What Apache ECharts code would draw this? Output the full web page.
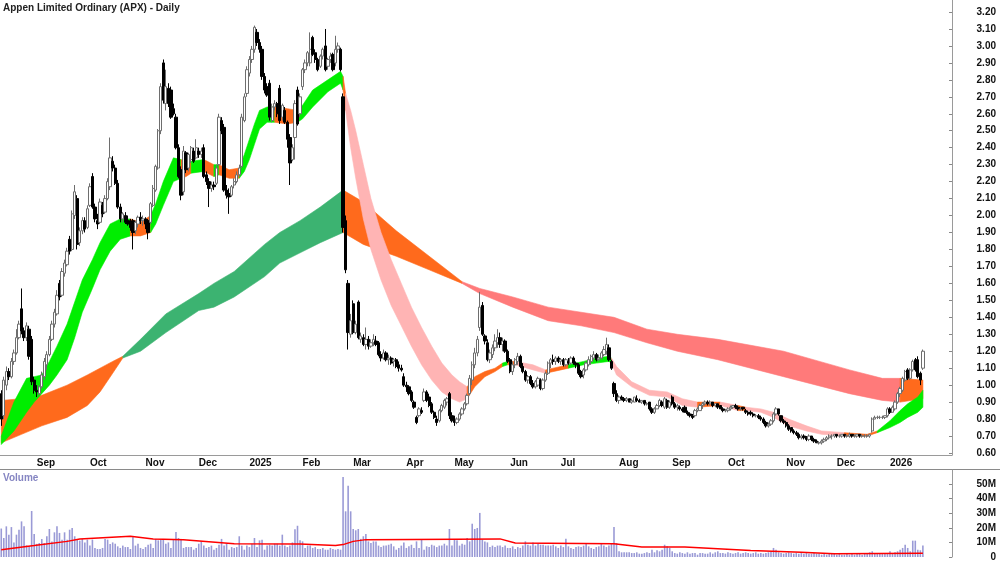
<!DOCTYPE html>
<html>
<head>
<meta charset="utf-8">
<script src="https://cdn.jsdelivr.net/npm/echarts@6/dist/echarts.min.js"></script>
<style>
html, body { margin: 0; padding: 0; background: #fff; }
#chart { width: 1000px; height: 562px; }
</style>
</head>
<body>
<div id="chart"></div>
<script>
// first trading day of each month (bar index) and its label
const monthStarts = [14, 35, 57, 78, 98, 119, 139, 160, 179, 201, 221, 244, 265, 287, 310, 330, 351];
const monthNames = ['Sep', 'Oct', 'Nov', 'Dec', '2025', 'Feb', 'Mar', 'Apr', 'May', 'Jun', 'Jul', 'Aug', 'Sep', 'Oct', 'Nov', 'Dec', '2026'];
const slotCount = 376; // bar slots, incl. empty space after the last bar

const priceTicks = [0.6, 0.7, 0.8, 0.9, 1.0, 1.1, 1.2, 1.3, 1.4, 1.5, 1.6, 1.7, 1.8, 1.9, 2.0, 2.1, 2.2, 2.3, 2.4, 2.5, 2.6, 2.7, 2.8, 2.9, 3.0, 3.1, 3.2];
const volumeTicks = [0, 10, 20, 30, 40, 50];

// daily bars: [open, high, low, close]
const ohlc = [
  // Aug 2024
  [0.95,0.97,0.76,0.80],[0.82,1.05,0.80,1.03],[1.00,1.11,0.97,1.08],[1.08,1.10,1.03,1.05],[1.05,1.16,1.04,1.14],
  [1.14,1.21,1.12,1.19],[1.19,1.33,1.18,1.28],[1.28,1.38,1.27,1.36],[1.45,1.57,1.30,1.32],[1.32,1.34,1.26,1.28],
  [1.28,1.37,1.26,1.35],[1.33,1.35,1.15,1.17],[1.27,1.29,1.00,1.02],[1.03,1.05,0.95,0.97],
  // Sep
  [0.97,1.00,0.93,0.96],[0.95,1.00,0.94,0.99],[0.99,1.08,0.98,1.06],[1.05,1.16,1.03,1.14],[1.12,1.20,1.09,1.18],
  [1.18,1.29,1.17,1.27],[1.27,1.38,1.26,1.36],[1.36,1.45,1.34,1.43],[1.42,1.56,1.41,1.53],[1.60,1.62,1.50,1.52],
  [1.53,1.69,1.52,1.67],[1.66,1.74,1.64,1.72],[1.71,1.81,1.70,1.79],[1.86,1.88,1.77,1.79],[1.80,2.03,1.79,2.01],
  [2.00,2.18,1.98,2.14],[2.10,2.12,1.80,1.83],[1.84,1.93,1.82,1.91],[1.91,1.99,1.89,1.97],[1.97,1.99,1.90,1.92],
  [1.93,2.06,1.92,2.04],
  // Oct
  [2.06,2.19,2.05,2.17],[2.23,2.25,2.04,2.05],[2.05,2.07,1.96,1.98],[1.97,2.01,1.92,1.95],[1.96,2.10,1.95,2.08],
  [2.06,2.08,1.99,2.01],[2.02,2.12,2.01,2.10],[2.10,2.22,2.09,2.20],[2.17,2.46,2.15,2.34],[2.32,2.35,2.26,2.28],
  [2.28,2.30,2.18,2.19],[2.19,2.21,2.04,2.05],[2.05,2.07,1.96,1.98],[1.98,2.02,1.96,2.01],[2.00,2.02,1.95,1.96],
  [1.97,2.00,1.94,1.95],[1.96,1.98,1.91,1.93],[1.97,1.98,1.80,1.90],[1.91,1.97,1.89,1.96],[1.95,2.00,1.93,1.99],
  [1.99,2.02,1.95,1.97],[1.97,2.00,1.94,1.98],
  // Nov
  [1.98,1.99,1.92,1.95],[1.97,1.98,1.86,1.90],[1.96,2.08,1.95,2.07],[2.06,2.18,2.05,2.16],[2.15,2.30,2.14,2.29],
  [2.28,2.51,2.27,2.50],[2.50,2.78,2.48,2.76],[2.90,2.92,2.66,2.68],[2.66,2.86,2.62,2.76],[2.75,2.78,2.64,2.66],
  [2.74,2.76,2.57,2.58],[2.63,2.66,2.59,2.60],[2.58,2.60,2.39,2.40],[2.40,2.42,2.22,2.23],[2.27,2.29,2.09,2.12],
  [2.14,2.41,2.12,2.38],[2.37,2.38,2.25,2.27],[2.28,2.37,2.26,2.36],[2.33,2.41,2.31,2.40],[2.38,2.40,2.31,2.32],
  [2.34,2.45,2.33,2.40],
  // Dec
  [2.38,2.40,2.34,2.36],[2.36,2.40,2.34,2.38],[2.40,2.42,2.22,2.23],[2.24,2.26,2.18,2.20],[2.20,2.22,2.05,2.16],
  [2.16,2.20,2.14,2.18],[2.18,2.20,2.15,2.17],[2.19,2.30,2.18,2.28],[2.30,2.60,2.29,2.58],[2.56,2.58,2.48,2.50],
  [2.52,2.54,2.14,2.15],[2.15,2.18,2.10,2.12],[2.13,2.16,2.01,2.11],[2.12,2.18,2.11,2.17],[2.18,2.22,2.16,2.20],
  [2.20,2.26,2.19,2.24],[2.24,2.30,2.23,2.28],[2.29,2.60,2.28,2.58],[2.56,2.72,2.55,2.70],[2.72,2.88,2.70,2.86],
  // Jan 2025
  [2.84,2.94,2.82,2.92],[2.92,3.00,2.90,2.98],[2.98,3.12,2.96,3.11],[3.08,3.10,3.00,3.02],[3.02,3.04,2.96,2.98],
  [2.98,3.00,2.80,2.82],[2.82,2.84,2.72,2.74],[2.76,2.78,2.70,2.71],[2.78,2.80,2.56,2.58],[2.56,2.66,2.55,2.64],
  [2.64,2.68,2.62,2.66],[2.66,2.67,2.58,2.60],[2.75,2.77,2.54,2.56],[2.58,2.66,2.56,2.65],[2.62,2.64,2.54,2.55],
  [2.55,2.56,2.40,2.45],[2.46,2.48,2.18,2.31],[2.33,2.42,2.32,2.40],[2.46,2.68,2.33,2.66],[2.74,2.76,2.53,2.54],
  [2.60,2.72,2.58,2.70],
  // Feb
  [2.76,2.87,2.74,2.86],[2.86,2.92,2.84,2.90],[2.90,2.97,2.88,2.96],[2.90,3.08,2.88,2.98],[3.05,3.06,2.94,2.95],
  [2.96,2.98,2.90,2.92],[2.92,2.93,2.85,2.86],[2.88,2.95,2.87,2.94],[2.94,2.99,2.92,2.98],[3.00,3.10,2.85,2.86],
  [2.88,2.93,2.86,2.92],[2.92,2.96,2.90,2.94],[2.95,2.96,2.85,2.86],[2.90,3.06,2.88,2.98],[2.98,3.02,2.96,3.00],
  [2.98,2.99,2.85,2.86],[2.70,2.72,1.90,1.93],[1.97,2.00,1.66,1.68],[1.60,1.62,1.21,1.31],[1.30,1.42,1.28,1.38],
  // Mar
  [1.48,1.50,1.30,1.31],[1.31,1.38,1.30,1.36],[1.49,1.50,1.27,1.28],[1.27,1.31,1.25,1.29],[1.28,1.30,1.23,1.24],
  [1.24,1.34,1.21,1.27],[1.27,1.29,1.21,1.23],[1.23,1.27,1.22,1.25],[1.25,1.30,1.23,1.27],[1.26,1.29,1.23,1.24],
  [1.25,1.26,1.17,1.18],[1.18,1.20,1.14,1.16],[1.16,1.21,1.15,1.19],[1.19,1.20,1.14,1.15],[1.15,1.18,1.12,1.16],
  [1.16,1.17,1.12,1.13],[1.14,1.16,1.11,1.15],[1.15,1.16,1.10,1.11],[1.12,1.14,1.08,1.10],[1.10,1.12,1.08,1.09],
  [1.05,1.07,0.99,1.00],
  // Apr
  [1.00,1.02,0.96,0.99],[0.99,1.00,0.94,0.95],[0.96,0.97,0.90,0.91],[0.90,0.91,0.86,0.87],[0.81,0.82,0.77,0.78],
  [0.82,0.87,0.81,0.86],[0.85,0.87,0.83,0.84],[0.91,0.98,0.90,0.96],[0.96,0.97,0.90,0.91],[0.93,0.95,0.87,0.88],
  [0.89,0.90,0.83,0.84],[0.84,0.85,0.80,0.81],[0.80,0.82,0.76,0.78],[0.79,0.86,0.78,0.85],[0.85,0.89,0.84,0.88],
  [0.87,0.92,0.86,0.91],[0.90,0.93,0.88,0.92],[0.95,0.96,0.80,0.82],[0.82,0.84,0.78,0.79],
  // May
  [0.80,0.82,0.76,0.78],[0.78,0.81,0.77,0.80],[0.80,0.84,0.79,0.83],[0.83,0.87,0.82,0.86],[0.86,0.90,0.85,0.89],
  [0.89,0.95,0.88,0.94],[0.95,1.06,0.94,1.04],[1.03,1.14,1.00,1.12],[1.12,1.22,1.10,1.19],[1.19,1.29,1.17,1.27],
  [1.34,1.55,1.32,1.46],[1.47,1.49,1.29,1.30],[1.29,1.30,1.24,1.26],[1.25,1.27,1.14,1.15],[1.15,1.21,1.13,1.19],
  [1.18,1.24,1.16,1.22],[1.22,1.30,1.20,1.26],[1.25,1.33,1.22,1.28],[1.28,1.31,1.22,1.24],[1.24,1.28,1.20,1.26],
  [1.26,1.27,1.19,1.20],[1.20,1.21,1.13,1.14],
  // Jun
  [1.15,1.16,1.07,1.08],[1.08,1.14,1.06,1.12],[1.12,1.16,1.10,1.15],[1.14,1.19,1.12,1.17],[1.17,1.18,1.10,1.11],
  [1.11,1.13,1.07,1.08],[1.08,1.09,1.02,1.03],[1.03,1.06,1.01,1.05],[1.05,1.06,1.00,1.01],[1.01,1.03,0.98,0.99],
  [0.99,1.03,0.98,1.02],[1.00,1.05,0.99,1.04],[1.03,1.04,0.97,0.98],[0.98,1.04,0.97,1.03],[1.03,1.08,1.02,1.07],
  [1.07,1.14,1.06,1.13],[1.13,1.16,1.10,1.15],[1.15,1.18,1.12,1.14],[1.14,1.17,1.12,1.16],[1.16,1.17,1.13,1.14],
  // Jul
  [1.14,1.16,1.12,1.15],[1.15,1.16,1.11,1.12],[1.12,1.16,1.11,1.15],[1.14,1.16,1.12,1.13],[1.13,1.17,1.12,1.16],
  [1.16,1.17,1.12,1.13],[1.13,1.14,1.10,1.12],[1.12,1.13,1.06,1.07],[1.08,1.09,1.04,1.05],[1.06,1.10,1.04,1.09],
  [1.09,1.14,1.08,1.13],[1.12,1.17,1.11,1.15],[1.14,1.18,1.12,1.17],[1.16,1.20,1.15,1.18],[1.18,1.19,1.14,1.15],
  [1.15,1.18,1.14,1.16],[1.16,1.20,1.15,1.19],[1.18,1.23,1.17,1.21],[1.20,1.28,1.18,1.24],[1.22,1.24,1.14,1.15],
  [1.14,1.15,1.09,1.10],[1.01,1.02,0.93,0.95],[0.95,0.97,0.90,0.91],
  // Aug
  [0.91,0.94,0.89,0.93],[0.93,0.94,0.91,0.92],[0.92,0.93,0.90,0.91],[0.91,0.93,0.90,0.92],[0.92,0.92,0.90,0.90],
  [0.90,0.92,0.89,0.91],[0.90,0.93,0.90,0.93],[0.92,0.94,0.90,0.91],[0.91,0.92,0.90,0.90],[0.90,0.91,0.89,0.91],
  [0.91,0.91,0.88,0.89],[0.89,0.90,0.88,0.89],[0.90,0.90,0.85,0.86],[0.86,0.87,0.83,0.84],[0.84,0.87,0.83,0.86],
  [0.86,0.89,0.86,0.88],[0.88,0.92,0.87,0.91],[0.90,0.91,0.87,0.88],[0.87,0.93,0.86,0.92],[0.91,0.92,0.86,0.87],
  [0.87,0.91,0.86,0.90],
  // Sep
  [0.93,0.94,0.88,0.89],[0.89,0.90,0.86,0.87],[0.87,0.89,0.85,0.88],[0.87,0.88,0.85,0.86],[0.86,0.87,0.84,0.85],
  [0.87,0.88,0.84,0.84],[0.84,0.85,0.82,0.83],[0.83,0.84,0.81,0.82],[0.82,0.83,0.80,0.81],[0.82,0.86,0.81,0.85],
  [0.85,0.87,0.84,0.86],[0.85,0.89,0.85,0.88],[0.88,0.90,0.86,0.89],[0.89,0.91,0.88,0.90],[0.90,0.91,0.88,0.89],
  [0.89,0.91,0.88,0.90],[0.90,0.90,0.87,0.88],[0.88,0.89,0.87,0.89],[0.89,0.89,0.86,0.87],[0.88,0.88,0.86,0.86],
  [0.86,0.87,0.84,0.85],[0.85,0.86,0.84,0.85],
  // Oct
  [0.85,0.87,0.84,0.86],[0.86,0.88,0.85,0.87],[0.87,0.88,0.86,0.88],[0.88,0.89,0.86,0.87],[0.87,0.88,0.85,0.86],
  [0.86,0.87,0.85,0.86],[0.87,0.87,0.85,0.86],[0.85,0.86,0.83,0.84],[0.84,0.85,0.82,0.83],[0.84,0.85,0.82,0.83],
  [0.83,0.84,0.81,0.82],[0.82,0.83,0.81,0.82],[0.82,0.83,0.80,0.81],[0.81,0.82,0.79,0.80],[0.80,0.81,0.77,0.78],
  [0.78,0.79,0.75,0.76],[0.76,0.78,0.75,0.77],[0.77,0.80,0.76,0.79],[0.79,0.84,0.78,0.83],[0.83,0.87,0.82,0.86],
  [0.86,0.86,0.82,0.83],[0.82,0.82,0.78,0.79],[0.79,0.80,0.77,0.78],
  // Nov
  [0.78,0.79,0.75,0.76],[0.76,0.77,0.73,0.74],[0.75,0.75,0.72,0.73],[0.73,0.74,0.71,0.72],[0.72,0.73,0.70,0.71],
  [0.71,0.72,0.68,0.69],[0.69,0.71,0.68,0.70],[0.70,0.71,0.68,0.69],[0.69,0.70,0.67,0.68],[0.68,0.71,0.67,0.70],
  [0.70,0.70,0.67,0.68],[0.68,0.69,0.66,0.67],[0.67,0.68,0.66,0.66],[0.66,0.67,0.65,0.66],[0.66,0.68,0.65,0.67],
  [0.67,0.69,0.66,0.68],[0.68,0.70,0.67,0.69],[0.69,0.71,0.68,0.70],[0.70,0.71,0.68,0.70],[0.70,0.71,0.69,0.71],
  // Dec
  [0.71,0.71,0.69,0.70],[0.70,0.71,0.69,0.70],[0.70,0.71,0.69,0.71],[0.71,0.71,0.69,0.70],[0.70,0.71,0.69,0.70],
  [0.70,0.72,0.69,0.71],[0.71,0.71,0.69,0.70],[0.70,0.71,0.69,0.70],[0.70,0.71,0.69,0.71],[0.71,0.71,0.69,0.70],
  [0.70,0.71,0.69,0.70],[0.70,0.71,0.69,0.70],[0.70,0.71,0.69,0.70],[0.70,0.71,0.69,0.71],[0.73,0.81,0.72,0.80],
  [0.80,0.82,0.80,0.81],[0.81,0.82,0.80,0.81],[0.81,0.82,0.80,0.81],[0.81,0.82,0.80,0.81],[0.81,0.82,0.80,0.82],
  [0.82,0.87,0.81,0.86],
  // Jan 2026
  [0.86,0.87,0.83,0.84],[0.84,0.88,0.84,0.87],[0.86,0.91,0.85,0.90],[0.90,0.96,0.89,0.95],[0.95,0.99,0.93,0.98],
  [0.97,1.05,0.96,1.04],[1.03,1.09,1.02,1.08],[1.09,1.10,1.03,1.04],[1.04,1.10,1.03,1.09],[1.09,1.15,1.08,1.14],
  [1.15,1.16,1.08,1.09],[1.15,1.17,1.04,1.05],[1.07,1.08,1.00,1.03],[1.10,1.21,1.09,1.20]
];

// daily volume, millions
const volumes = [
  19.5,13.0,21.0,15.3,20.5,10.0,15.3,18.7,24.4,21.0, 8.0,7.5,31.5,15.8,9.0,9.6,12.3,9.6,14.2,19.2,
  10.7,16.9,21.0,16.5,11.9,16.9,11.9,18.7,19.9,14.2, 11.9,11.2,12.4,10.0,11.9,7.8,11.9,6.2,5.5,5.5,
  6.2,12.4,11.9,8.9,10.0,9.1,7.3,6.2,7.8,6.8, 6.8,5.5,14.2,7.8,9.1,6.2,5.5,6.8,8.4,9.1,
  6.2,12.4,11.4,11.9,11.9,9.1,10.0,6.2,11.9,17.2, 13.0,12.4,6.2,6.8,6.8,6.8,5.0,6.2,9.1,10.7,
  7.8,6.2,6.8,7.8,5.0,6.2,8.4,12.4,7.8,9.1, 5.0,6.8,6.2,6.8,14.2,7.8,5.0,7.8,6.8,9.1,
  13.0,6.8,11.4,11.9,5.0,7.8,8.4,7.8,9.1,9.1, 7.8,15.3,7.8,6.8,7.8,10.0,19.0,21.4,11.4,10.7,
  6.2,7.8,7.8,6.2,6.8,5.5,5.5,6.2,5.0,5.0, 6.2,5.5,5.0,5.5,5.0,
  54.8,31.3,48.8,31.3,19.2,18.3,19.2,12.4,14.2,15.8,
  10.7,9.6,10.7,10.7,7.8,6.8,7.8,7.8,8.4,9.1,7.3,5.0,6.2,7.8,10.0,
  6.2,7.3,8.4,6.2,10.7,6.2,11.9,5.0,7.3,6.8,8.4,7.8,6.8,7.8,7.8,9.1,7.8,19.2,7.8,
  11.9,11.4,7.8,9.1,8.4,13.0,10.7,22.8,19.2,19.9,30.2,11.9,10.7,10.0,6.8,7.8,6.8,7.8,
  7.8,6.8,7.8,6.2,6.2,7.3,5.5,6.8,6.2,7.8, 10.7,8.4,7.8,10.0,7.8,9.1,8.4,8.4,7.8,7.8,
  7.8,8.4,7.3,6.2,7.8,6.8,12.5,7.3,6.2,5.5, 6.8,7.3,6.8,7.8,9.1,7.3,6.2,5.5,6.8,7.3,
  9.6,7.8,6.8,7.8,9.6,20.5,9.6,3.9,3.2,3.2, 3.2,3.2,2.7,2.7,3.2,2.3,2.3,2.7,3.2,2.7,
  5.0,3.2,4.6,3.9,5.0,8.4,7.3,6.2,3.9,2.7, 2.3,3.2,2.7,2.3,3.2,2.3,2.7,2.7,1.6,2.7,
  2.7,2.3,2.3,3.2,2.3,3.2,3.9,2.7,2.7,2.3, 3.2,2.7,2.3,2.7,3.2,2.3,2.7,3.2,2.7,2.3,
  2.7,3.2,2.3,2.7,2.3,2.7,3.2,3.9,6.2,5.0, 3.2,2.7,2.3,2.7,3.2,2.7,2.3,2.7,2.3,2.7,
  2.3,2.7,2.3,2.3,2.7,2.3,2.3,1.6,2.3,1.6, 2.3,2.7,2.3,1.6,2.3,1.6,1.6,2.3,1.6,2.3,
  1.6,2.3,2.7,1.6,2.3,2.7,3.2,3.9,2.7,2.3, 2.7,2.3,2.7,2.3,3.9,2.7,3.2,3.9,5.0,6.2,
  8.4,6.2,3.9,11.2,11.2,5.0,4.6,7.8
];

// volume average line: [bar index, millions]
const volumeAvg = [
  [0,5.0],[13,7.8],[26,10.7],[31,12.4],[51,14.2],[60,12.4],[72,11.9],[92,9.1],[118,8.9],[132,7.8],
  [135,8.5],[139,10.7],[144,11.9],[197,12.4],[203,9.6],[242,9.1],[253,6.8],[270,6.8],[296,4.4],[316,3.2],
  [329,2.3],[364,2.5]
];

// short-term MMA ribbon: [bar index, low edge, high edge, trend until next point]
const shortRibbon = [
  [0,0.65,0.70,'up'],[5,0.73,0.90,'up'],[10,0.84,1.04,'up'],[13,0.90,1.05,'up'],[16,0.95,1.06,'up'],
  [19,1.00,1.14,'up'],[22,1.06,1.23,'up'],[26,1.15,1.36,'up'],[29,1.28,1.49,'up'],[32,1.43,1.62,'up'],
  [36,1.57,1.74,'up'],[39,1.68,1.84,'up'],[43,1.79,1.95,'up'],[47,1.86,1.98,'up'],[51,1.88,1.98,'mix'],
  [55,1.88,1.96,'mix'],[59,1.90,2.00,'up'],[61,1.95,2.07,'up'],[64,2.06,2.20,'up'],[68,2.20,2.34,'up'],
  [71,2.22,2.33,'mix'],[73,2.23,2.31,'mix'],[75,2.25,2.32,'up'],[80,2.26,2.33,'mix'],[84,2.23,2.30,'up'],
  [86,2.24,2.30,'mix'],[90,2.22,2.27,'mix'],[94,2.22,2.28,'up'],[96,2.26,2.36,'up'],[98,2.33,2.45,'up'],
  [100,2.42,2.54,'up'],[102,2.51,2.62,'up'],[105,2.55,2.64,'up'],[108,2.55,2.64,'mix'],[113,2.54,2.63,'mix'],
  [117,2.55,2.62,'up'],[119,2.57,2.65,'up'],[123,2.64,2.74,'up'],[129,2.73,2.80,'up'],[134,2.78,2.85,'up'],
  [135,2.74,2.82,'mix'],[136,2.62,2.72,'down'],[138,2.40,2.62,'down'],[140,2.22,2.50,'down'],[143,1.98,2.30,'down'],
  [146,1.80,2.10,'down'],[150,1.62,1.90,'down'],[154,1.47,1.74,'down'],[158,1.35,1.60,'down'],[162,1.23,1.46,'down'],
  [166,1.12,1.34,'down'],[170,1.03,1.23,'down'],[174,0.96,1.13,'down'],[178,0.92,1.06,'down'],[181,0.90,1.02,'down'],
  [184,0.92,0.99,'mix'],[187,0.99,1.05,'mix'],[191,1.05,1.08,'mix'],[195,1.08,1.10,'mix'],[198,1.11,1.13,'up'],
  [200,1.12,1.14,'mix'],[203,1.12,1.14,'down'],[210,1.09,1.12,'down'],[215,1.07,1.09,'mix'],[221,1.09,1.11,'mix'],
  [224,1.10,1.12,'up'],[230,1.12,1.14,'up'],[235,1.13,1.16,'up'],[240,1.14,1.17,'up'],[241,1.13,1.16,'down'],
  [243,1.06,1.11,'down'],[249,0.99,1.02,'down'],[256,0.94,0.97,'down'],[263,0.93,0.96,'down'],[269,0.88,0.92,'down'],
  [275,0.87,0.90,'mix'],[284,0.88,0.90,'down'],[291,0.85,0.88,'mix'],[294,0.85,0.87,'down'],[300,0.84,0.86,'down'],
  [305,0.81,0.84,'down'],[311,0.76,0.80,'down'],[318,0.73,0.76,'down'],[324,0.71,0.73,'down'],[333,0.70,0.72,'mix'],
  [342,0.70,0.71,'mix'],[346,0.72,0.73,'up'],[351,0.75,0.79,'up'],[355,0.78,0.85,'up'],[358,0.81,0.89,'up'],
  [362,0.84,0.93,'up'],[364,0.87,0.97,'up']
];

// long-term MMA ribbon: [bar index, low edge, high edge, trend until next point]
const longRibbon = [
  [0,0.66,0.91,'mix'],[8,0.71,0.92,'mix'],[16,0.76,0.94,'mix'],[26,0.81,1.00,'mix'],[34,0.88,1.06,'mix'],
  [39,0.96,1.10,'mix'],[44,1.07,1.14,'mix'],[48,1.16,1.17,'up'],[55,1.20,1.27,'up'],[65,1.31,1.42,'up'],
  [78,1.44,1.54,'up'],[84,1.46,1.60,'up'],[92,1.52,1.67,'up'],[104,1.64,1.83,'up'],[110,1.72,1.90,'up'],
  [118,1.78,1.97,'up'],[126,1.84,2.05,'up'],[135,1.90,2.15,'mix'],[143,1.83,2.08,'mix'],[156,1.76,1.91,'mix'],
  [169,1.68,1.76,'mix'],[182,1.60,1.61,'down'],[189,1.54,1.57,'down'],[202,1.46,1.52,'down'],[216,1.38,1.46,'down'],
  [229,1.35,1.43,'down'],[242,1.31,1.40,'down'],[255,1.25,1.33,'down'],[267,1.20,1.30,'down'],[283,1.15,1.27,'down'],
  [309,1.05,1.20,'down'],[335,0.95,1.09,'down'],[348,0.91,1.04,'down'],[355,0.90,1.04,'mix'],[364,0.92,1.03,'mix']
];

const shortColors = { up: '#00ee00', mix: '#ff6a1c', down: '#ffb4b4' };
const longColors = { up: '#3cb371', mix: '#ff6a1c', down: '#ff7a7a' };
const font = '"Liberation Sans", Arial, sans-serif';

const days = [];
for (let i = 0; i < slotCount; i++) days.push(String(i));
const monthLabel = {};
monthStarts.forEach((idx, k) => { monthLabel[idx] = monthNames[k]; });

// split a ribbon into runs of the same trend colour
function ribbonRuns(band) {
  const runs = [];
  let start = 0;
  for (let j = 1; j < band.length; j++) {
    if (j === band.length - 1 || band[j][3] !== band[start][3]) {
      runs.push({ from: start, to: j, state: band[start][3] });
      start = j;
    }
  }
  return runs;
}

function ribbonSeries(band, colors, z) {
  const runs = ribbonRuns(band);
  return {
    type: 'custom',
    xAxisIndex: 0,
    yAxisIndex: 0,
    z: z,
    clip: true,
    silent: true,
    data: runs.map(r => [band[r.from][0], band[r.from][1]]),
    encode: { x: 0, y: 1 },
    renderItem: function (params, api) {
      const run = runs[params.dataIndex];
      const pts = [];
      for (let k = run.from; k <= run.to; k++) pts.push(api.coord([band[k][0], band[k][2]]));
      for (let k = run.to; k >= run.from; k--) pts.push(api.coord([band[k][0], band[k][1]]));
      const c = colors[run.state];
      return { type: 'polygon', shape: { points: pts }, style: { fill: c, stroke: c, lineWidth: 0.6 } };
    }
  };
}

const chart = echarts.init(document.getElementById('chart'));
chart.setOption({
  animation: false,
  backgroundColor: '#ffffff',
  grid: [
    { left: 0, right: 48, top: 0, height: 455 },
    { left: 0, right: 48, top: 470, height: 87 }
  ],
  xAxis: [
    {
      type: 'category', gridIndex: 0, data: days, boundaryGap: true,
      axisLine: { lineStyle: { color: '#9a9a9a', width: 1 } },
      axisTick: { interval: (i) => monthLabel[i] !== undefined, length: 3, lineStyle: { color: '#666' } },
      axisLabel: {
        interval: (i) => monthLabel[i] !== undefined,
        formatter: (v, i) => monthLabel[i] || '',
        align: 'left', margin: 3, color: '#111', fontSize: 10, fontWeight: 'bold', fontFamily: font
      },
      splitLine: { show: false }
    },
    {
      type: 'category', gridIndex: 1, data: days, boundaryGap: true,
      axisLine: { show: false }, axisTick: { show: false }, axisLabel: { show: false }, splitLine: { show: false }
    }
  ],
  yAxis: [
    {
      type: 'value', gridIndex: 0, position: 'right', min: 0.5882, max: 3.2708, scale: true,
      axisLine: { show: true, lineStyle: { color: '#9a9a9a' } },
      axisTick: { show: true, inside: true, length: 3, customValues: priceTicks, lineStyle: { color: '#888' } },
      axisLabel: {
        customValues: priceTicks, formatter: (v) => v.toFixed(2),
        align: 'right', margin: 44, color: '#111', fontSize: 10, fontWeight: 'bold', fontFamily: font
      },
      splitLine: { show: false }
    },
    {
      type: 'value', gridIndex: 1, position: 'right', min: 0, max: 59.6,
      axisLine: { show: true, lineStyle: { color: '#9a9a9a' } },
      axisTick: { show: true, inside: true, length: 3, customValues: volumeTicks, lineStyle: { color: '#888' } },
      axisLabel: {
        customValues: volumeTicks, formatter: (v) => (v === 0 ? '0' : v + 'M'),
        align: 'right', margin: 44, color: '#111', fontSize: 10, fontWeight: 'bold', fontFamily: font
      },
      splitLine: { show: false }
    }
  ],
  graphic: [
    { type: 'text', left: 3, top: 3, style: { text: 'Appen Limited Ordinary (APX) - Daily', font: 'bold 10px ' + font, fill: '#222' } },
    { type: 'text', left: 3, top: 473, style: { text: 'Volume', font: 'bold 10px ' + font, fill: '#8585c2' } },
    { type: 'line', shape: { x1: 0, y1: 469.5, x2: 1000, y2: 469.5 }, style: { stroke: '#8a8a8a', lineWidth: 1 } }
  ],
  series: [
    ribbonSeries(longRibbon, longColors, 1),
    ribbonSeries(shortRibbon, shortColors, 2),
    {
      type: 'candlestick', xAxisIndex: 0, yAxisIndex: 0, z: 5, barWidth: 2.8,
      data: ohlc.map(d => [d[0], d[3], d[2], d[1]]),
      itemStyle: { color: '#ffffff', color0: '#000000', borderColor: '#6e6e6e', borderColor0: '#000000', borderWidth: 1 }
    },
    {
      type: 'bar', xAxisIndex: 1, yAxisIndex: 1, barWidth: 1.6, data: volumes,
      itemStyle: { color: '#9a9ad6' }
    },
    {
      type: 'line', xAxisIndex: 1, yAxisIndex: 1, data: volumeAvg, symbol: 'none', z: 4,
      lineStyle: { color: '#ff0000', width: 1.5 }
    }
  ]
});
</script>
</body>
</html>
